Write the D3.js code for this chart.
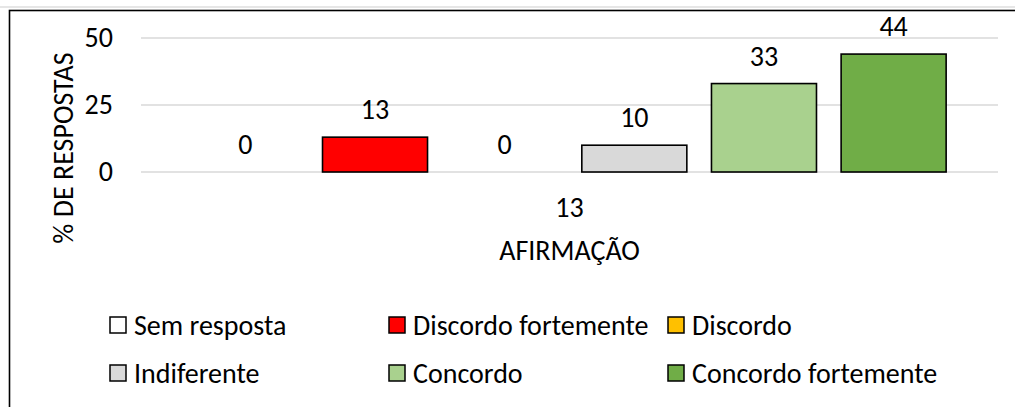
<!DOCTYPE html>
<html>
<head>
<meta charset="utf-8">
<script src="https://cdn.jsdelivr.net/npm/d3@7"></script>
<style>
  body { margin: 0; background: #fff; }
  text { font-family: Carlito, Lato, "Open Sans", sans-serif; fill: #000; }
</style>
</head>
<body>
<svg id="chart" width="1015" height="407"></svg>
<script>
// chart data
let categories = ["13"];
let seriesNames = ["Sem resposta", "Discordo fortemente", "Discordo", "Indiferente", "Concordo", "Concordo fortemente"];
let seriesValues = [0, 13, 0, 10, 33, 44];
let seriesColors = ["#FFFFFF", "#FF0000", "#FFC000", "#D9D9D9", "#A9D18E", "#70AD47"];
let yTicks = [0, 25, 50];

let svg = d3.select("#chart");
let fontSize = 28;

let xr1 = 141, xr2 = 998;
let yr1 = 38, yr2 = 172;

// frame
svg.append("line")
    .attr("x1", 0).attr("x2", 1015).attr("y1", 7).attr("y2", 7)
    .attr("stroke", "#e6e6e6").attr("stroke-width", 2);
svg.append("rect")
    .attr("x", 9.5).attr("y", 10.5)
    .attr("width", 1020).attr("height", 420)
    .attr("fill", "#fff").attr("stroke", "#000").attr("stroke-width", 1.6);

let x0 = d3.scaleBand().domain(categories).range([xr1, xr2]);
let x1 = d3.scaleBand().domain(seriesNames)
    .range([0, x0.bandwidth()])
    .paddingInner(0.19).paddingOuter(0.40);
let yScale = d3.scaleLinear().domain([0, 50]).range([yr2, yr1]);

// gridlines
svg.append("g").selectAll("line")
    .data(yTicks)
    .enter().append("line")
    .attr("x1", xr1).attr("x2", xr2)
    .attr("y1", d => yScale(d)).attr("y2", d => yScale(d))
    .attr("stroke", "#d9d9d9").attr("stroke-width", 1.5);

// y axis labels
let yAxis = d3.axisLeft(yScale).tickValues(yTicks).tickSize(0).tickPadding(0);
let yAxisG = svg.append("g")
    .attr("transform", "translate(113,0)")
    .call(yAxis);
yAxisG.select(".domain").remove();
yAxisG.selectAll("text")
    .style("font-size", fontSize + "px")
    .style("font-family", "Carlito, Lato, 'Open Sans', sans-serif")
    .attr("fill", "#000");

// bars
let data = seriesNames.map((name, i) => ({
    name: name, value: seriesValues[i], color: seriesColors[i], cat: categories[0]
}));

let groups = svg.append("g");
groups.selectAll("rect")
    .data(data.filter(d => d.value > 0))
    .enter().append("rect")
    .attr("x", d => x0(d.cat) + x1(d.name))
    .attr("width", x1.bandwidth())
    .attr("y", d => yScale(d.value))
    .attr("height", d => yScale(0) - yScale(d.value))
    .attr("fill", d => d.color)
    .attr("stroke", "#000").attr("stroke-width", 1.6);

// data labels
groups.selectAll("text")
    .data(data)
    .enter().append("text")
    .attr("x", d => x0(d.cat) + x1(d.name) + x1.bandwidth() / 2)
    .attr("y", d => yScale(d.value) - 18)
    .attr("text-anchor", "middle")
    .style("font-size", fontSize + "px")
    .text(d => d.value);

// category label
let xAxis = d3.axisBottom(x0).tickSize(0).tickPadding(0);
let xAxisG = svg.append("g")
    .attr("transform", "translate(0,197)")
    .call(xAxis);
xAxisG.select(".domain").remove();
xAxisG.selectAll("text")
    .style("font-size", fontSize + "px")
    .style("font-family", "Carlito, Lato, 'Open Sans', sans-serif")
    .attr("fill", "#000");

// axis titles
svg.append("text")
    .attr("x", (xr1 + xr2) / 2).attr("y", 260)
    .attr("text-anchor", "middle")
    .style("font-size", fontSize + "px")
    .text("AFIRMAÇÃO");

svg.append("text")
    .attr("transform", "translate(73,148) rotate(-90)")
    .attr("text-anchor", "middle")
    .style("font-size", fontSize + "px")
    .text("% DE RESPOSTAS");

// legend
let legend = svg.append("g");
let items = legend.selectAll("g")
    .data(data)
    .enter().append("g")
    .attr("transform", (d, i) => "translate(" + (110 + (i % 3) * 279) + "," + (325 + Math.floor(i / 3) * 48) + ")");

items.append("rect")
    .attr("x", 0).attr("y", -8)
    .attr("width", 16).attr("height", 16)
    .attr("fill", d => d.color)
    .attr("stroke", "#000").attr("stroke-width", 1.5);

items.append("text")
    .attr("x", 24).attr("y", 10)
    .style("font-size", fontSize + "px")
    .text(d => d.name);
</script>
</body>
</html>
